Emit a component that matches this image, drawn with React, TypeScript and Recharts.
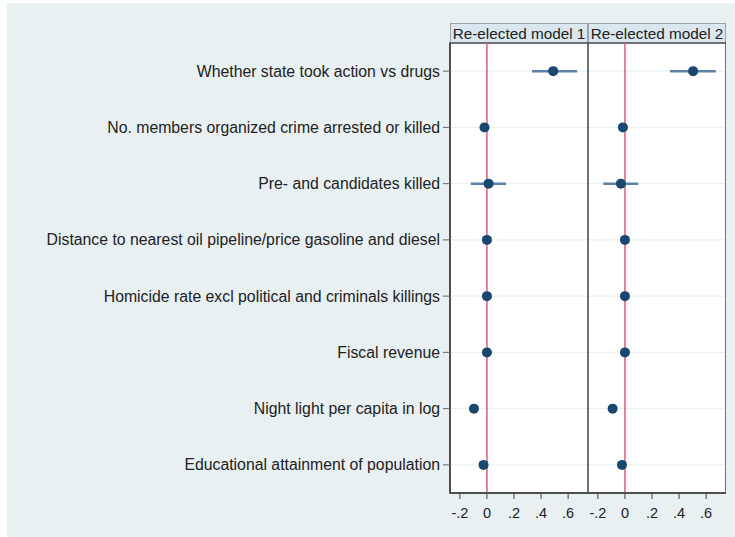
import { CartesianGrid, ComposedChart, ErrorBar, ReferenceArea, ReferenceLine, Scatter, XAxis, YAxis } from 'recharts';

const categories = [
  'Whether state took action vs drugs',
  'No. members organized crime arrested or killed',
  'Pre- and candidates killed',
  'Distance to nearest oil pipeline/price gasoline and diesel',
  'Homicide rate excl political and criminals killings',
  'Fiscal revenue',
  'Night light per capita in log',
  'Educational attainment of population',
];

// point estimates and confidence bounds
const model1Est = [0.49, -0.018, 0.012, 0.0, 0.0, 0.0, -0.096, -0.025];
const model1Lo = [0.333, -0.03, -0.119, -0.005, -0.005, -0.005, -0.104, -0.035];
const model1Hi = [0.667, -0.006, 0.141, 0.005, 0.005, 0.005, -0.088, -0.015];

const model2Est = [0.504, -0.015, -0.03, 0.0, 0.0, 0.0, -0.091, -0.022];
const model2Lo = [0.333, -0.027, -0.16, -0.005, -0.005, -0.005, -0.099, -0.032];
const model2Hi = [0.672, -0.003, 0.099, 0.005, 0.005, 0.005, -0.083, -0.012];

const panelTitles = ['Re-elected model 1', 'Re-elected model 2'];
const xTicks = [-0.2, 0, 0.2, 0.4, 0.6];
const xDomain: [number, number] = [-0.273, 0.747];

const FONT = '"Liberation Sans", Arial, Helvetica, sans-serif';
const DOT = '#1a476f';
const CI = '#5b81a6';

function buildRows(est: number[], lo: number[], hi: number[]) {
  return categories.map((name, i) => ({ name, est: est[i], err: [est[i] - lo[i], hi[i] - est[i]] }));
}

const fmtTick = (v: number) => (v === 0 ? '0' : v.toFixed(1).replace(/^(-?)0\./, '$1.'));

function Dot(props: any) {
  return <circle cx={props.cx} cy={props.cy} r={5} fill={DOT} />;
}

interface PanelProps {
  rows: ReturnType<typeof buildRows>;
  title: string;
  showLabels: boolean;
  left: number;
  width: number;
  plotLeft: number;
}

function Panel({ rows, title, showLabels, left, width, plotLeft }: PanelProps) {
  return (
    <div style={{ position: 'absolute', left, top: 0, width, height: 537 }}>
      <div
        style={{
          position: 'absolute',
          left: plotLeft,
          top: 23,
          width: width - plotLeft,
          height: 20,
          boxSizing: 'border-box',
          background: '#dbe7ee',
          borderTop: '1px solid #9aa3a8',
          borderLeft: '1px solid #9aa3a8',
          borderRight: '1px solid #9aa3a8',
          fontFamily: FONT,
          fontSize: 15.3,
          lineHeight: '19px',
          color: '#222',
          textAlign: 'center',
          whiteSpace: 'nowrap',
          overflow: 'hidden',
        }}
      >
        {title}
      </div>
      <ComposedChart
        width={width}
        height={537}
        layout="vertical"
        data={rows}
        margin={{ top: 43, right: 0, left: 0, bottom: 0 }}
        style={{ fontFamily: FONT }}
      >
        <CartesianGrid horizontal vertical={false} stroke="#e6efef" fill="#ffffff" />
        <XAxis
          type="number"
          domain={xDomain}
          ticks={xTicks}
          allowDataOverflow
          tickFormatter={fmtTick}
          height={44}
          tickSize={6}
          tickMargin={9}
          axisLine={{ stroke: '#444', strokeWidth: 1.5 }}
          tickLine={{ stroke: '#444' }}
          tick={{ fontSize: 14.5, fill: '#222' }}
        />
        <YAxis
          type="category"
          dataKey="name"
          scale="band"
          hide={!showLabels}
          width={plotLeft}
          interval={0}
          tickSize={7}
          tickMargin={3}
          axisLine={{ stroke: '#444', strokeWidth: 1.5 }}
          tickLine={{ stroke: '#666' }}
          tick={{ fontSize: 15.8, fill: '#222' }}
        />
        <ReferenceArea x1={xDomain[0]} x2={xDomain[1]} fill="none" stroke="#444" strokeWidth={1.5} />
        <ReferenceLine x={0} stroke="#d9607c" strokeWidth={1.5} />
        <Scatter dataKey="est" shape={Dot} isAnimationActive={false}>
          <ErrorBar dataKey="err" direction="x" width={0} stroke={CI} strokeWidth={2.5} isAnimationActive={false} />
        </Scatter>
      </ComposedChart>
    </div>
  );
}

export default function App() {
  return (
    <div style={{ position: 'absolute', left: 0, top: 0, width: 735, height: 537, background: '#fff' }}>
      <div style={{ position: 'absolute', left: 7, top: 3, width: 728, height: 534, background: '#e8f0f2' }} />
      <Panel rows={buildRows(model1Est, model1Lo, model1Hi)} title={panelTitles[0]} showLabels left={0} width={588} plotLeft={450} />
      <Panel rows={buildRows(model2Est, model2Lo, model2Hi)} title={panelTitles[1]} showLabels={false} left={588} width={138} plotLeft={0} />
    </div>
  );
}
